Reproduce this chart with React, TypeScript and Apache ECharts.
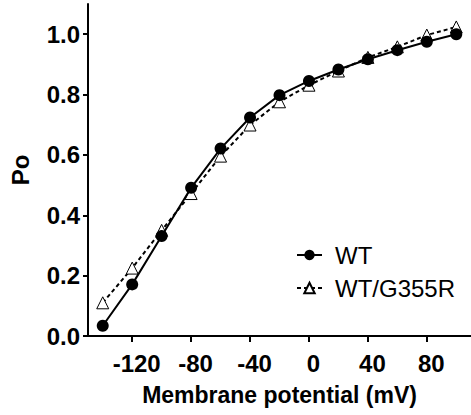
import React, { useEffect, useRef } from "react";
import * as echarts from "echarts";

const voltages = [-140, -120, -100, -80, -60, -40, -20, 0, 20, 40, 60, 80, 100];
const wtPo = [0.034, 0.171, 0.331, 0.491, 0.621, 0.724, 0.798, 0.845, 0.883, 0.917, 0.947, 0.975, 1.0];
const g355rPo = [0.11, 0.225, 0.35, 0.472, 0.596, 0.699, 0.776, 0.831, 0.878, 0.923, 0.958, 0.997, 1.024];
const xTicks = [-120, -80, -40, 0, 40, 80];
const yTicks = [0, 0.2, 0.4, 0.6, 0.8, 1.0];

const FONT = "'Liberation Sans', Arial, sans-serif";

export default function App() {
  const ref = useRef<HTMLDivElement>(null);
  useEffect(() => {
    const chart = echarts.init(ref.current!, null, { renderer: "svg" });
    chart.setOption({
      animation: false,
      backgroundColor: "#fff",
      grid: { left: 84, right: -3, top: 4, bottom: 79, containLabel: false },
      legend: {
        orient: "vertical",
        left: 291,
        top: 238,
        padding: 5,
        itemWidth: 25,
        itemHeight: 13,
        itemGap: 9,
        data: ["WT", "WT/G355R"],
        textStyle: {
          fontFamily: FONT,
          fontSize: 24,
          color: "#000",
          lineHeight: 24,
          padding: [0, 0, 0, 8],
        },
      },
      xAxis: {
        type: "value",
        min: -150,
        max: 110,
        name: "Membrane potential (mV)",
        nameLocation: "middle",
        nameGap: 47,
        nameTextStyle: { fontFamily: FONT, fontSize: 23, fontWeight: "bold", color: "#000" },
        axisLine: { show: true, onZero: false, lineStyle: { color: "#000", width: 2 } },
        axisTick: { show: true, inside: false, length: 6, customValues: xTicks, lineStyle: { color: "#000", width: 2 } },
        axisLabel: {
          customValues: xTicks,
          margin: 15,
          padding: [0, 0, 0, 9],
          fontFamily: FONT,
          fontSize: 24,
          fontWeight: "bold",
          color: "#000",
        },
        splitLine: { show: false },
      },
      yAxis: {
        type: "value",
        min: 0,
        max: 1.1,
        name: "Po",
        nameLocation: "middle",
        nameGap: 56,
        nameRotate: 90,
        nameTextStyle: { fontFamily: FONT, fontSize: 24, fontWeight: "bold", color: "#000" },
        axisLine: { show: true, onZero: false, lineStyle: { color: "#000", width: 2 } },
        axisTick: { show: true, inside: false, length: 5, customValues: yTicks, lineStyle: { color: "#000", width: 2 } },
        axisLabel: {
          customValues: yTicks,
          margin: 8,
          fontFamily: FONT,
          fontSize: 24,
          fontWeight: "bold",
          color: "#000",
          formatter: (v: number) => v.toFixed(1),
        },
        splitLine: { show: false },
      },
      series: [
        {
          name: "WT/G355R",
          type: "line",
          data: voltages.map((v, i) => [v, g355rPo[i]]),
          symbol: "triangle",
          symbolSize: 12,
          z: 2,
          lineStyle: { color: "#000", width: 2, type: [4, 3] },
          itemStyle: { color: "#fff", borderColor: "#000", borderWidth: 1 },
        },
        {
          name: "WT",
          type: "line",
          data: voltages.map((v, i) => [v, wtPo[i]]),
          symbol: "circle",
          symbolSize: 12,
          z: 3,
          lineStyle: { color: "#000", width: 2, type: "solid" },
          itemStyle: { color: "#000", borderColor: "#000", borderWidth: 0 },
        },
      ],
    });
    return () => chart.dispose();
  }, []);
  return (
    <div
      ref={ref}
      style={{ position: "fixed", left: 0, top: 0, width: 471, height: 415, background: "#fff" }}
    />
  );
}
